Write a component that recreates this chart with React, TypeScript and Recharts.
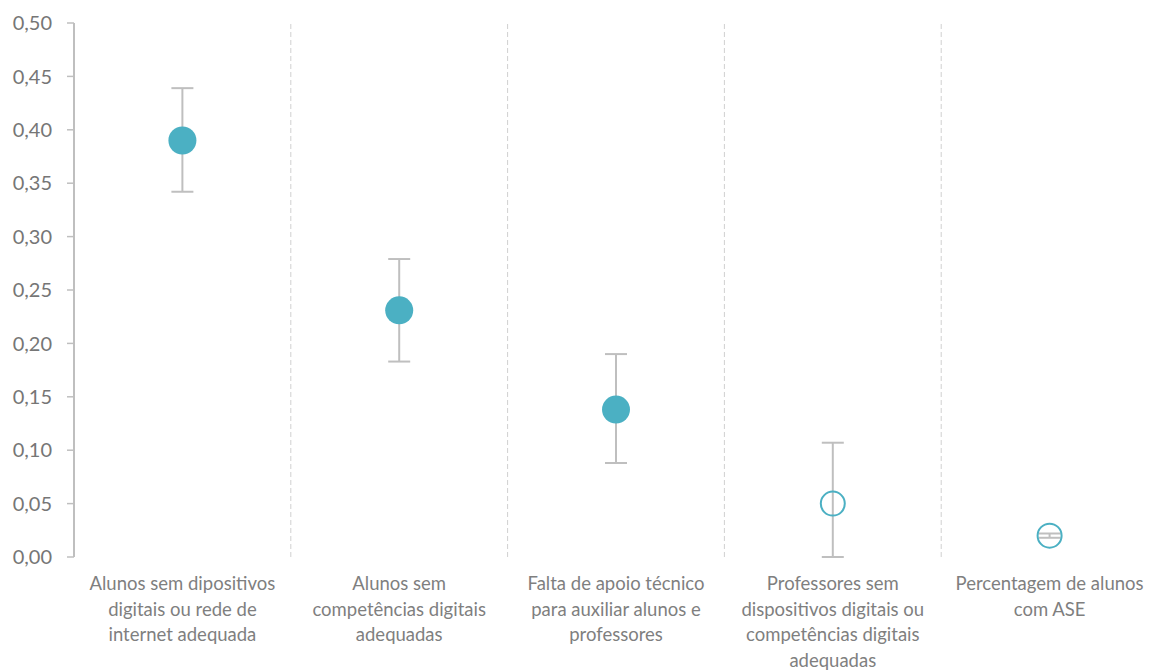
import React from 'react';
import {
  ComposedChart,
  Scatter,
  ErrorBar,
  XAxis,
  YAxis,
  ReferenceLine,
} from 'recharts';

const categories = [
  'Alunos sem dipositivos\ndigitais ou rede de\ninternet adequada',
  'Alunos sem\ncompetências digitais\nadequadas',
  'Falta de apoio técnico\npara auxiliar alunos e\nprofessores',
  'Professores sem\ndispositivos digitais ou\ncompetências digitais\nadequadas',
  'Percentagem de alunos\ncom ASE',
];
const estimates = [0.39, 0.231, 0.138, 0.05, 0.02];
const errLow = [0.048, 0.048, 0.05, 0.05, 0.002];
const errHigh = [0.049, 0.048, 0.052, 0.057, 0.002];
const significant = [true, true, true, false, false];
const yTicks = [0, 0.05, 0.1, 0.15, 0.2, 0.25, 0.3, 0.35, 0.4, 0.45, 0.5];

const data = categories.map((c, i) => ({
  x: i + 0.5,
  name: c,
  y: estimates[i],
  err: [errLow[i], errHigh[i]],
  sig: significant[i],
}));

const centerTicks = categories.map((_, i) => i + 0.5);
const boundaryTicks = categories.map((_, i) => i).concat([categories.length]);

const TEAL = '#4BB0C3';
const AXIS = '#BFBFBF';
const FONT = 'Lato, "Open Sans", sans-serif';

const Marker = (props: any) => {
  const { cx, cy, payload } = props;
  if (cx == null || cy == null) return null;
  if (payload.sig) {
    return <circle cx={cx} cy={cy} r={14} fill={TEAL} stroke="none" />;
  }
  return <circle cx={cx} cy={cy} r={12} fill="none" stroke={TEAL} strokeWidth={2} />;
};

const EmptyTick = () => <g />;

const CategoryTick = (props: any) => {
  const { x, y, payload } = props;
  const idx = Math.round(payload.value - 0.5);
  const lines = (categories[idx] || '').split('\n');
  return (
    <g>
      {lines.map((l, i) => (
        <text
          key={i}
          x={x}
          y={y + 26 + i * 25.5}
          textAnchor="middle"
          dominantBaseline="central"
          fill="#7F7F7F"
          fontSize={18.5}
          fontFamily={FONT}
        >
          {l}
        </text>
      ))}
    </g>
  );
};

export default function App() {
  return (
    <div style={{ margin: '-8px 0 0 -8px', width: 1154, height: 671, overflow: 'hidden', background: '#fff' }}>
      <ComposedChart
        width={1158}
        height={671}
        data={data}
        margin={{ top: 23, right: 0, bottom: 0, left: 0 }}
      >
        <XAxis
          xAxisId="grid"
          type="number"
          dataKey="x"
          domain={[0, categories.length]}
          ticks={boundaryTicks}
          tick={<EmptyTick />}
          tickSize={6}
          tickLine={{ stroke: AXIS, strokeWidth: 1.5 }}
          axisLine={{ stroke: AXIS, strokeWidth: 2 }}
          height={0}
          allowDataOverflow
        />
        <XAxis
          xAxisId="cat"
          type="number"
          dataKey="x"
          domain={[0, categories.length]}
          ticks={centerTicks}
          tick={<CategoryTick />}
          tickLine={false}
          axisLine={false}
          tickSize={0}
          tickMargin={0}
          height={114}
          interval={0}
        />
        <YAxis
          type="number"
          domain={[0, 0.5]}
          ticks={yTicks}
          allowDataOverflow
          width={74}
          tickSize={7}
          tickMargin={15}
          interval={0}
          tickFormatter={(v: number) => v.toFixed(2).replace('.', ',')}
          tick={{ fill: '#767676', fontSize: 20, fontFamily: FONT }}
          tickLine={{ stroke: AXIS, strokeWidth: 1.5 }}
          axisLine={{ stroke: AXIS, strokeWidth: 2 }}
        />
        {boundaryTicks.slice(1, categories.length).map((b) => (
          <ReferenceLine
            key={b}
            xAxisId="grid"
            x={b}
            stroke="#D0D0D0"
            strokeDasharray="5 3"
            strokeWidth={1}
          />
        ))}
        <Scatter
          xAxisId="grid"
          dataKey="y"
          shape={<Marker />}
          isAnimationActive={false}
        >
          <ErrorBar
            dataKey="err"
            direction="y"
            width={11}
            stroke={AXIS}
            strokeWidth={2}
            isAnimationActive={false}
          />
        </Scatter>
      </ComposedChart>
    </div>
  );
}
